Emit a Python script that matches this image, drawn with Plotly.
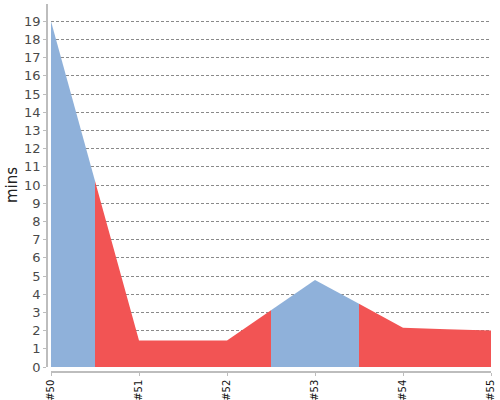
import plotly.graph_objects as go

# build trend data (minutes per build)
builds = ["#50", "#51", "#52", "#53", "#54", "#55"]
durations = [19.0, 1.45, 1.45, 4.78, 2.16, 2.0]
status = ["success", "failure", "failure", "success", "failure", "failure"]

colors = {"success": "#8fb1da", "failure": "#f25454"}

W, H = 500, 400
x0, x1 = 51, 491      # plot area in pixels
y_top, y_bot = 4, 367

fig = go.Figure()

n = len(builds)
for i in range(n):
    # each build owns the band from halfway to the previous build to halfway to the next
    xs, ys = [], []
    if i > 0:
        xs.append(i - 0.5)
        ys.append((durations[i - 1] + durations[i]) / 2)
    xs.append(i)
    ys.append(durations[i])
    if i < n - 1:
        xs.append(i + 0.5)
        ys.append((durations[i] + durations[i + 1]) / 2)
    poly_x = xs + [xs[-1], xs[0]]
    poly_y = ys + [0, 0]
    fig.add_trace(go.Scatter(
        x=poly_x, y=poly_y, mode="lines", fill="toself",
        fillcolor=colors[status[i]], line=dict(width=0, color=colors[status[i]]),
        hoverinfo="skip", showlegend=False))

fig.update_layout(
    width=W, height=H,
    margin=dict(l=0, r=0, t=0, b=0, autoexpand=False),
    paper_bgcolor="white", plot_bgcolor="white",
    font=dict(family="DejaVu Sans", color="#444"),
    xaxis=dict(
        domain=[x0 / W, x1 / W],
        range=[0, n - 1],
        tickvals=list(range(n)), ticktext=builds,
        tickangle=-90, tickfont=dict(size=10, color="#111"),
        showgrid=False, zeroline=False,
        showline=True, linecolor="#bdbdbd", linewidth=1.5,
        ticks="outside", ticklen=3, tickcolor="#bdbdbd",
        anchor="free", position=1 - 372 / H, automargin=False,
    ),
    yaxis=dict(
        domain=[1 - y_bot / H, 1 - y_top / H],
        range=[0, 19.95],
        tickvals=list(range(0, 20)),
        tickfont=dict(size=13, color="#4a4a4a"),
        showgrid=True, gridcolor="#8a8a8a", gridwidth=1, griddash="3px,2px",
        zeroline=True, zerolinecolor="rgba(0,0,0,0)",
        showline=True, linecolor="#bdbdbd", linewidth=1.5,
        ticks="outside", ticklen=3, tickcolor="#bdbdbd",
        anchor="free", position=47 / W, automargin=False,
        layer="above traces",
    ),
    annotations=[dict(
        text="mins", x=12 / W, y=1 - 185 / H, xref="paper", yref="paper",
        xanchor="center", yanchor="middle",
        textangle=-90, showarrow=False, font=dict(size=15, color="#222"),
    )],
)

# drop the default page margin so the figure sits at the window corner
fig.write_html("out.html", config={"displayModeBar": False},
               post_script="document.body.style.margin='0';")
